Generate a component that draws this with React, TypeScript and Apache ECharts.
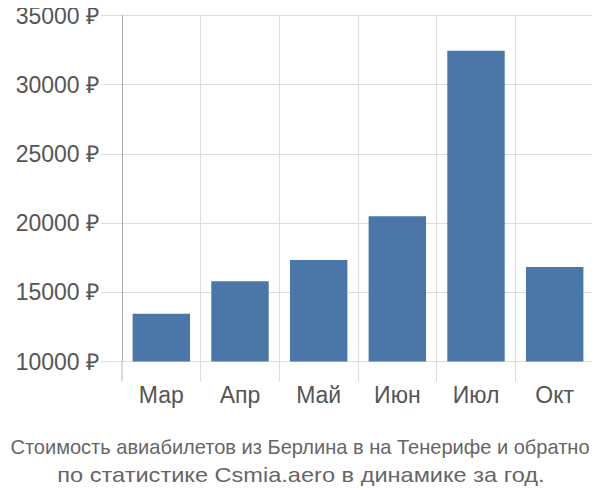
import React, { useEffect, useRef } from "react";
import * as echarts from "echarts";

const categories = ["Мар", "Апр", "Май", "Июн", "Июл", "Окт"];
const prices = [13450, 15800, 17330, 20500, 32450, 16830];
const yTicks = { min: 10000, max: 35000, interval: 5000 };
const titleLines = [
  "Стоимость авиабилетов из Берлина в на Тенерифе и обратно",
  "по статистике Csmia.aero в динамике за год.",
];

const FONT = "Liberation Sans, Arial, sans-serif";

export default function App() {
  const ref = useRef<HTMLDivElement>(null);
  useEffect(() => {
    if (!ref.current) return;
    const chart = echarts.init(ref.current, null, { renderer: "svg" });
    chart.setOption({
      animation: false,
      textStyle: { fontFamily: FONT },
      grid: { left: 122, right: 6, top: 15.5, bottom: 138.5, containLabel: false },
      xAxis: {
        type: "category",
        data: categories,
        axisLine: { show: false },
        axisTick: { show: true, length: 20, lineStyle: { color: "#ddd" } },
        splitLine: { show: true, lineStyle: { color: "#ddd" } },
        axisLabel: { color: "#555", fontSize: 23, margin: 22 },
      },
      yAxis: {
        type: "value",
        min: yTicks.min,
        max: yTicks.max,
        interval: yTicks.interval,
        axisLine: { show: true, lineStyle: { color: "#aaa" } },
        axisTick: { show: true, length: 21, lineStyle: { color: "#ddd" } },
        splitLine: { show: true, lineStyle: { color: "#ddd" } },
        axisLabel: {
          color: "#555",
          fontSize: 23,
          margin: 23,
          formatter: (v: number) => `${v} ₽`,
        },
      },
      graphic: [
        {
          type: "line",
          shape: { x1: 122, y1: 361.5, x2: 122, y2: 381 },
          style: { stroke: "#aaa", lineWidth: 1 },
        },
        {
          type: "text",
          x: 300,
          y: 447,
          scaleX: 0.978,
          style: {
            text: titleLines[0],
            font: `20.5px ${FONT}`,
            fill: "#666",
            align: "center",
            verticalAlign: "middle",
          },
        },
        {
          type: "text",
          x: 301,
          y: 475,
          scaleX: 1.15,
          style: {
            text: titleLines[1],
            font: `20.5px ${FONT}`,
            fill: "#666",
            align: "center",
            verticalAlign: "middle",
          },
        },
      ],
      series: [
        {
          type: "bar",
          data: prices,
          barCategoryGap: "27%",
          itemStyle: { color: "#4a76a8" },
        },
      ],
    });
    return () => chart.dispose();
  }, []);
  return <div ref={ref} style={{ width: 600, height: 500, margin: -8 }} />;
}
